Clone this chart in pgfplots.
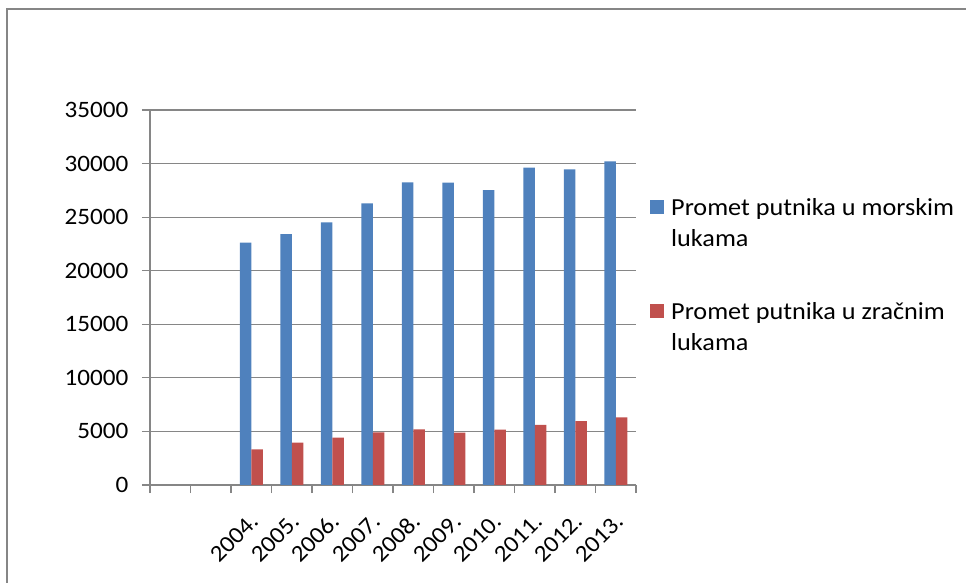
\documentclass[border=0pt]{standalone}
\usepackage{fontspec}
\setmainfont{Carlito}[FakeStretch=1.07]
\usepackage{pgfplots}
\pgfplotsset{compat=1.18}
\definecolor{sea}{HTML}{4F81BD}
\definecolor{air}{HTML}{C0504D}
\definecolor{gridgray}{HTML}{868686}
\begin{document}
\begin{tikzpicture}
\useasboundingbox (0pt,0pt) rectangle (966pt,583pt);
\draw[gridgray, line width=2pt] (7pt,-5pt) -- (7pt,574pt) -- (975pt,574pt);
\begin{axis}[
  at={(150pt,98pt)}, anchor=south west,
  scale only axis, width=486pt, height=375pt,
  xmin=-0.5, xmax=11.5, ymin=0, ymax=35000,
  ytick={0,5000,...,35000},
  scaled y ticks=false,
  ymajorgrids, grid style={gridgray, line width=1.2pt},
  axis x line*=bottom, axis y line*=left,
  axis line style={gridgray, line width=1.2pt, -},
  ytick style={gridgray, line width=1.2pt},
  ytick align=outside, major tick length=8pt,
  /pgf/number format/assume math mode=true,
  /pgf/number format/1000 sep={},
  yticklabel style={font=\fontsize{23.5}{28}\selectfont, text=black, anchor=east, xshift=-10pt},
  xtick={2,...,11},
  xticklabels={2004.,2005.,2006.,2007.,2008.,2009.,2010.,2011.,2012.,2013.},
  xtick style={draw=none},
  xticklabel style={font=\fontsize{23.5}{28}\selectfont, text=black, xshift=6pt, yshift=-22pt, rotate=45, anchor=east},
  extra x ticks={-0.5,0.5,...,11.5},
  extra x tick labels={},
  extra x tick style={xtick style={draw=gridgray, line width=1.2pt}, xtick align=outside, major tick length=8pt},
  ybar=0pt, bar width=11.5pt,
  legend style={at={(1.0288,0.779)}, anchor=north west, draw=none, fill=none,
    inner sep=0pt, row sep=65pt, column sep=7pt,
    nodes={inner sep=0pt},
    font=\fontsize{24.5}{31.5}\selectfont},
  legend cell align=left,
  legend image code/.code={\fill[#1] (0pt,-1pt) rectangle (14pt,13pt);},
]
\addplot[fill=sea, draw=none] coordinates {(2,22610) (3,23420) (4,24520) (5,26290) (6,28250) (7,28230) (8,27530) (9,29620) (10,29460) (11,30210)};
\addlegendentry{\begin{tabular}{@{}l@{}}Promet putnika u morskim\\lukama\end{tabular}}
\addplot[fill=air, draw=none] coordinates {(2,3330) (3,3950) (4,4420) (5,4920) (6,5200) (7,4880) (8,5160) (9,5600) (10,5970) (11,6320)};
\addlegendentry{\begin{tabular}{@{}l@{}}Promet putnika u zračnim\\lukama\end{tabular}}
\end{axis}
\end{tikzpicture}
\end{document}
